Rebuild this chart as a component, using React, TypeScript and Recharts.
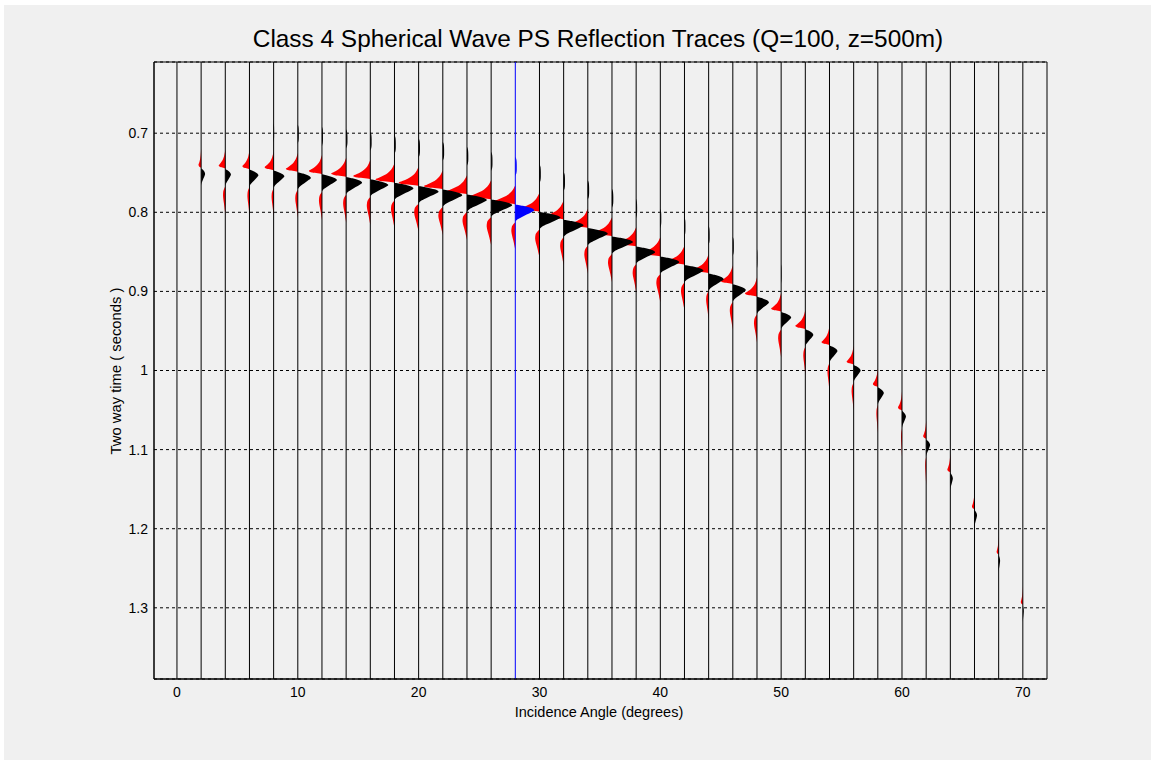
import React from 'react';
import { ComposedChart, Area, XAxis, YAxis, CartesianGrid, ReferenceLine, ReferenceArea } from 'recharts';

// trace angles (degrees) and zero-crossing time of each PS arrival (s)
const ANGLES = [0, 2, 4, 6, 8, 10, 12, 14, 16, 18, 20, 22, 24, 26, 28, 30, 32, 34, 36, 38, 40, 42, 44, 46, 48, 50, 52, 54, 56, 58, 60, 62, 64, 66, 68, 70];
const ARRIVAL = [0.742, 0.744, 0.7448, 0.7457, 0.747, 0.749, 0.7517, 0.7551, 0.758, 0.7623, 0.7665, 0.7708, 0.7771, 0.7835, 0.7898, 0.7992, 0.809, 0.8196, 0.8302, 0.8429, 0.8556, 0.8662, 0.877, 0.8908, 0.9065, 0.9256, 0.9475, 0.968, 0.9926, 1.021, 1.0507, 1.0868, 1.1291, 1.1758, 1.2331, 1.2967];

// lobe amplitudes, in degrees of trace offset
const NEG_AMP = [0, 0.22, 0.55, 0.58, 0.74, 0.99, 1.08, 1.24, 1.41, 1.57, 1.65, 1.57, 1.65, 1.74, 1.74, 1.57, 1.49, 1.57, 1.57, 1.57, 1.57, 1.49, 1.32, 0.99, 0.99, 0.83, 0.83, 0.66, 0.58, 0.41, 0.33, 0.25, 0.25, 0.21, 0.17, 0.17];
const POS_AMP = [0, 0.33, 0.47, 0.74, 0.89, 1.08, 1.24, 1.32, 1.49, 1.57, 1.65, 1.61, 1.65, 1.74, 1.57, 1.74, 1.65, 1.65, 1.74, 1.57, 1.57, 1.57, 1.24, 1.08, 0.99, 0.83, 0.66, 0.66, 0.58, 0.5, 0.33, 0.33, 0.21, 0.21, 0.12, 0.08];
const TAIL_AMP = [0, 0, 0.19, 0.17, 0.17, 0.21, 0.25, 0.25, 0.29, 0.29, 0.37, 0.37, 0.37, 0.37, 0.33, 0.36, 0.29, 0.29, 0.33, 0.29, 0.33, 0.29, 0.21, 0.25, 0.25, 0.25, 0.17, 0.17, 0.17, 0.12, 0.08, 0.08, 0, 0, 0, 0];
const PRE_AMP = [0, 0, 0, 0, 0.04, 0.08, 0.08, 0.11, 0.11, 0.11, 0.11, 0.11, 0.11, 0.11, 0.12, 0.11, 0.11, 0.11, 0.11, 0.08, 0.08, 0.08, 0.08, 0.08, 0.04, 0.04, 0, 0, 0, 0, 0, 0, 0, 0, 0, 0];

// wavelet lobes: time offset from zero crossing (s) and normalised amplitude
const PRE_DT = [-0.06, -0.056, -0.05, -0.044, -0.039, -0.035];
const PRE_SHAPE = [0, 0.8, 1, 1, 0.7, 0];
const NEG_DT = [-0.024, -0.02, -0.016, -0.012, -0.009, -0.006, -0.004, -0.002, 0];
const NEG_SHAPE = [0, -0.08, -0.18, -0.35, -0.55, -0.82, -1, -0.75, 0];
const POS_DT = [0, 0.002, 0.0045, 0.0075, 0.01, 0.013, 0.016, 0.019, 0.022];
const POS_SHAPE = [0, 0.4, 0.8, 1, 0.85, 0.6, 0.35, 0.12, 0];
const TAIL_DT = [0.022, 0.025, 0.029, 0.034, 0.04, 0.046, 0.052, 0.058];
const TAIL_SHAPE = [0, -0.45, -0.9, -1, -0.8, -0.5, -0.25, 0];

const X_TICKS = [0, 10, 20, 30, 40, 50, 60, 70];
const Y_TICKS = [0.7, 0.8, 0.9, 1, 1.1, 1.2, 1.3];
const HIGHLIGHT = 28;

const lobe = (a: number, t0: number, amp: number, dts: number[], shape: number[]) =>
  dts.map((dt, k) => ({ t: +(t0 + dt).toFixed(4), v: [a, a + amp * shape[k]] }));

const traces = ANGLES.map((a, i) => ({
  angle: a,
  live: POS_AMP[i] > 0 || NEG_AMP[i] > 0,
  pos: [...lobe(a, ARRIVAL[i], PRE_AMP[i], PRE_DT, PRE_SHAPE), ...lobe(a, ARRIVAL[i], POS_AMP[i], POS_DT, POS_SHAPE)],
  neg: [...lobe(a, ARRIVAL[i], NEG_AMP[i], NEG_DT, NEG_SHAPE), ...lobe(a, ARRIVAL[i], TAIL_AMP[i], TAIL_DT, TAIL_SHAPE)],
}));

const FONT = '"Liberation Sans", Arial, Helvetica, sans-serif';

export default function App() {
  return (
    <div style={{ position: 'relative', width: 1151, height: 760, background: '#fff', fontFamily: FONT }}>
      <style>{'body{margin:0}'}</style>
      <div style={{ position: 'absolute', left: 4, top: 5, right: 0, bottom: 0, background: '#f0f0f0' }} />
      <div style={{ position: 'absolute', left: 0, top: 0 }}>
        <ComposedChart width={1151} height={760} layout="vertical" margin={{ top: 62, right: 104, bottom: 41, left: 0 }}>
          <CartesianGrid vertical={false} stroke="#000" strokeDasharray="3 3" />
          <XAxis
            type="number"
            domain={[-1.9, 72]}
            ticks={X_TICKS}
            interval={0}
            allowDataOverflow
            height={40}
            tickLine={false}
            axisLine={{ stroke: '#000' }}
            tick={{ fill: '#000', fontSize: 14 }}
          />
          <YAxis
            type="number"
            dataKey="t"
            domain={[0.61, 1.39]}
            allowDataOverflow
            ticks={Y_TICKS}
            interval={0}
            width={154}
            tickLine={false}
            tickSize={4}
            axisLine={{ stroke: '#000' }}
            tick={{ fill: '#000', fontSize: 14 }}
          />
          {traces.map((tr) => (
            <ReferenceLine key={'l' + tr.angle} x={tr.angle} stroke={tr.angle === HIGHLIGHT ? '#0000ff' : '#000'} strokeWidth={1} />
          ))}
          {traces.filter((tr) => tr.live).map((tr) => (
            <Area
              key={'n' + tr.angle}
              data={tr.neg}
              dataKey="v"
              type="monotone"
              stroke="none"
              fill="#ff0000"
              fillOpacity={1}
              isAnimationActive={false}
            />
          ))}
          {traces.filter((tr) => tr.live).map((tr) => (
            <Area
              key={'p' + tr.angle}
              data={tr.pos}
              dataKey="v"
              type="monotone"
              stroke="none"
              fill={tr.angle === HIGHLIGHT ? '#0000ff' : '#000'}
              fillOpacity={1}
              isAnimationActive={false}
            />
          ))}
          <ReferenceArea x1={-1.9} x2={72} y1={0.61} y2={1.39} fill="none" stroke="#000" ifOverflow="visible" />
        </ComposedChart>
      </div>
      <svg width={1151} height={760} style={{ position: 'absolute', left: 0, top: 0, pointerEvents: 'none' }}>
        <text x={598} y={47} textAnchor="middle" fontSize={24.4} fill="#000" fontFamily={FONT}>
          Class 4 Spherical Wave PS Reflection Traces (Q=100, z=500m)
        </text>
        <text x={599} y={716.5} textAnchor="middle" fontSize={14.5} fill="#000" fontFamily={FONT}>
          Incidence Angle (degrees)
        </text>
        <text transform="translate(121,371) rotate(-90)" textAnchor="middle" fontSize={14.8} fill="#000" fontFamily={FONT}>
          Two way time ( seconds )
        </text>
      </svg>
    </div>
  );
}
